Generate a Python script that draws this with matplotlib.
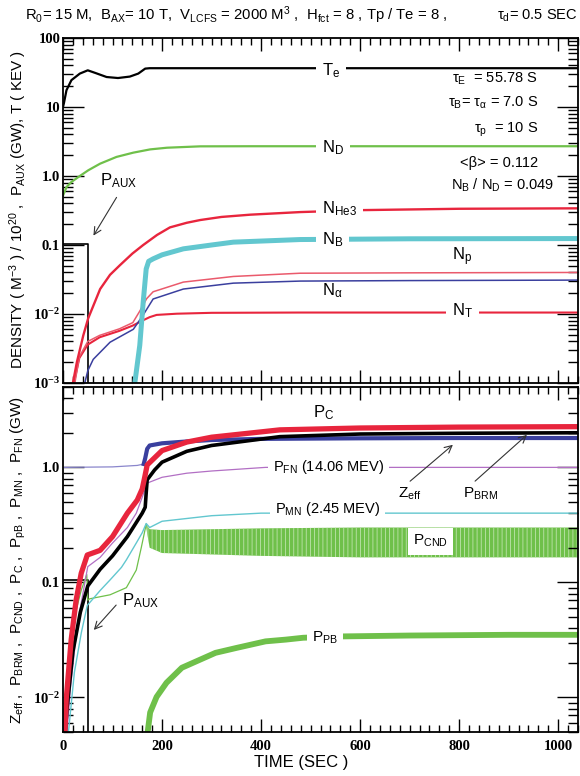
import matplotlib
matplotlib.use('Agg')
import matplotlib.pyplot as plt
from matplotlib.ticker import MultipleLocator, LogLocator

plt.rcParams['font.family'] = ['Liberation Sans', 'DejaVu Sans']
plt.rcParams['mathtext.default'] = 'regular'
plt.rcParams['hatch.linewidth'] = 0.6

W, H = 580, 776

# ---- top panel : densities (1e20 m^-3), T_e (keV), P_aux (GW) vs time (s)
t_te = [0, 2, 7, 17, 34, 50, 65, 88, 111, 135, 152, 166, 175, 300, 600, 1040]
te = [10, 11.5, 17.5, 24.5, 30.5, 34, 31.2, 27.2, 26.3, 27.6, 30.5, 36, 36.5, 36.5, 36.5, 36.5]

t_nd = [0, 7, 17, 34, 51, 75, 108, 142, 176, 210, 277, 378, 600, 1040]
nd = [0.52, 0.69, 0.82, 1.0, 1.21, 1.51, 1.89, 2.18, 2.43, 2.57, 2.69, 2.7, 2.7, 2.7]

t_nhe3 = [20, 28, 41, 51, 75, 95, 115, 140, 162, 190, 216, 250, 277, 320, 378, 479, 600, 800, 1040]
nhe3 = [0.001, 0.002, 0.0049, 0.0087, 0.023, 0.037, 0.051, 0.075, 0.1, 0.14, 0.18, 0.21, 0.23,
        0.255, 0.275, 0.30, 0.32, 0.335, 0.34]

t_nb = [145, 155, 162, 168, 173, 182, 200, 243, 300, 344, 479, 700, 1040]
nb = [0.001, 0.0035, 0.015, 0.045, 0.058, 0.063, 0.072, 0.088, 0.1, 0.11, 0.12, 0.123, 0.124]

t_np = [24, 33, 50, 74, 114, 141, 155, 169, 182, 243, 344, 479, 700, 1040]
n_p = [0.001, 0.0024, 0.0040, 0.0049, 0.0061, 0.0075, 0.011, 0.0167, 0.021, 0.029, 0.035, 0.039,
       0.0395, 0.040]

t_nt = [22, 33, 50, 74, 114, 141, 160, 175, 189, 230, 300, 479, 1040]
n_t = [0.001, 0.0023, 0.0036, 0.0046, 0.0057, 0.0068, 0.0080, 0.0090, 0.0097, 0.0101, 0.0104,
       0.0105, 0.0105]

t_na = [44, 50, 61, 95, 142, 162, 182, 243, 344, 479, 700, 1040]
n_a = [0.001, 0.0015, 0.0022, 0.0039, 0.006, 0.0097, 0.0165, 0.023, 0.028, 0.030, 0.0305, 0.031]

t_aux = [0, 50, 50]
p_aux = [0.105, 0.105, 1e-4]

# ---- bottom panel : powers (GW) and Z_eff vs time (s)
t_pc = [3, 6.5, 16.6, 26.7, 36.8, 49, 75, 100, 130, 150, 160, 165, 170, 200, 250, 300, 438,
        600, 800, 1040]
p_c = [0.004, 0.0096, 0.032, 0.071, 0.12, 0.173, 0.19, 0.25, 0.40, 0.52, 0.65, 0.82, 1.05,
       1.4, 1.66, 1.83, 2.12, 2.2, 2.24, 2.26]

t_brm = [3, 8, 20, 35, 50, 75, 100, 130, 160, 166, 168, 170, 185, 200, 250, 300, 438, 600,
         800, 1040]
p_brm = [0.004, 0.008, 0.025, 0.055, 0.093, 0.13, 0.17, 0.25, 0.40, 0.45, 0.6, 0.78, 0.95,
         1.11, 1.38, 1.55, 1.85, 1.95, 1.98, 2.0]

t_zeff = [0, 100, 150, 163, 166, 170, 175, 200, 250, 300, 400, 600, 800, 1040]
zeff = [1.0, 1.01, 1.04, 1.07, 1.2, 1.45, 1.55, 1.62, 1.68, 1.73, 1.77, 1.79, 1.8, 1.8]

t_fn = [8, 15, 25, 35, 50, 75, 100, 130, 148, 160, 170, 200, 250, 300, 409, 500, 700, 1040]
p_fn = [0.005, 0.012, 0.03, 0.06, 0.137, 0.165, 0.22, 0.30, 0.40, 0.55, 0.73, 0.82, 0.89, 0.93,
        1.0, 1.0, 1.0, 1.0]

t_mn = [11, 23, 37, 49, 75, 95, 118, 128, 148, 160, 168, 175, 200, 300, 400, 600, 1040]
p_mn = [0.005, 0.0165, 0.0365, 0.063, 0.085, 0.105, 0.135, 0.157, 0.22, 0.27, 0.325, 0.30,
        0.34, 0.38, 0.40, 0.40, 0.40]

t_cnd = [2, 7, 13, 23, 37, 48, 50, 54, 95, 128, 148, 158, 168]
p_cnd = [0.005, 0.0102, 0.026, 0.05, 0.086, 0.117, 0.07, 0.072, 0.078, 0.09, 0.128, 0.2, 0.32]
# oscillating part after ignition: envelope of the band
t_cnd_band = [168, 175, 200, 300, 400, 600, 800, 1040]
p_cnd_lo = [0.30, 0.20, 0.18, 0.175, 0.17, 0.165, 0.165, 0.165]
p_cnd_hi = [0.32, 0.29, 0.285, 0.29, 0.295, 0.30, 0.30, 0.30]

t_pb = [171, 176, 189, 209, 240, 308, 350, 409, 450, 485, 563, 700, 900, 1040]
p_pb = [0.005, 0.0074, 0.0101, 0.0134, 0.0181, 0.0244, 0.0269, 0.0307, 0.0318, 0.033, 0.0339,
        0.0345, 0.035, 0.035]

RED = '#e8253d'
GREEN = '#6fc04a'
CYAN = '#62c7cf'
BLUE = '#3a3f9e'
PURPLE = '#b26fc4'

fig = plt.figure(figsize=(W / 100, H / 100), dpi=100)
ax1 = fig.add_axes([63 / W, 1 - 383 / H, (578 - 63) / W, 345 / H])
ax2 = fig.add_axes([63 / W, 1 - 732 / H, (578 - 63) / W, 345 / H])

# top panel curves
ax1.plot(t_aux, p_aux, color='black', lw=1.2)
ax1.plot(t_nd, nd, color=GREEN, lw=1.6)
ax1.plot(t_nt, n_t, color=RED, lw=1.5)
ax1.plot(t_np, n_p, color='#ea5a6c', lw=1.1)
ax1.plot(t_na, n_a, color=BLUE, lw=1.1)
ax1.plot(t_nb, nb, color=CYAN, lw=3.6)
ax1.plot(t_nhe3, nhe3, color=RED, lw=1.7)
ax1.plot(t_te, te, color='black', lw=1.6)

# bottom panel curves
ax2.plot(t_aux, p_aux, color='black', lw=1.2)
ax2.plot(t_cnd, p_cnd, color=GREEN, lw=0.9)
ax2.fill_between(t_cnd_band, p_cnd_lo, p_cnd_hi, facecolor=GREEN, edgecolor='#bfe3ad',
                 hatch='||||', lw=0)
ax2.plot(t_pb, p_pb, color=GREEN, lw=4.2)
ax2.plot(t_mn, p_mn, color=CYAN, lw=1.0)
ax2.plot(t_fn, p_fn, color=PURPLE, lw=0.9)
ax2.plot(t_zeff[:4], zeff[:4], color='#8a86cc', lw=0.9)
ax2.plot(t_zeff[3:], zeff[3:], color=BLUE, lw=3.0)
ax2.plot(t_brm, p_brm, color='black', lw=2.6)
ax2.plot(t_pc, p_c, color=RED, lw=3.8)

for ax in (ax1, ax2):
    ax.set_yscale('log')
    ax.set_xlim(0, 1040)
    ax.xaxis.set_major_locator(MultipleLocator(200))
    ax.xaxis.set_minor_locator(MultipleLocator(20))
    ax.yaxis.set_minor_locator(LogLocator(base=10, subs=range(2, 10), numticks=20))
    ax.tick_params(which='both', direction='in', top=True, right=True)
    ax.tick_params(axis='x', which='major', length=9.5, width=1, pad=6)
    ax.tick_params(axis='x', which='minor', length=5, width=1)
    ax.tick_params(axis='y', which='major', length=15, width=1, pad=2)
    ax.tick_params(axis='y', which='minor', length=7, width=1)
    for s in ax.spines.values():
        s.set_linewidth(1.3)

ax1.set_ylim(1e-3, 100)
ax1.set_yticks([100, 10, 1, 0.1, 0.01, 0.001],
               ['100', '10', '1.0', '0.1', '$10^{-2}$', '$10^{-3}$'])
ax1.tick_params(labelbottom=False)
ax2.set_ylim(0.005, 5)
ax2.set_yticks([1, 0.1, 0.01], ['1.0', '0.1', '$10^{-2}$'])
ax2.set_xticks([0, 200, 400, 600, 800, 1000], ['0', '200', '400', '600', '800', '1000'])

for ax in (ax1, ax2):
    for lab in ax.get_xticklabels() + ax.get_yticklabels():
        lab.set_fontfamily('Liberation Serif')
        lab.set_fontweight('bold')
        lab.set_fontsize(10.5)


def ftext(x, y, s, size=11.5, box=False, **kw):
    kw.setdefault('va', 'baseline')
    if box:
        kw['bbox'] = dict(boxstyle='square,pad=0.35', fc='white', ec='none')
    fig.text(x / W, 1 - y / H, s, fontsize=size, **kw)


def arrow(ax, x0, y0, x1, y1):
    ax.annotate('', xy=(x1, H - y1), xytext=(x0, H - y0),
                xycoords='figure pixels', textcoords='figure pixels',
                arrowprops=dict(arrowstyle='->', lw=0.8, color='#333333',
                                mutation_scale=13))


# header
ftext(25, 20, r'R$_0$= 15 M,  B$_{AX}$= 10 T,  V$_{LCFS}$ = 2000 M$^3$ ,  H$_{fct}$ = 8 , '
      r'Tp / Te = 8 ,', size=10.7)
ftext(577, 20, r'τ$_d$= 0.5 SEC', size=10.5, ha='right')

# top panel labels
ftext(322, 75, r'T$_e$', size=12, box=True)
ftext(322, 152, r'N$_D$', size=12, box=True)
ftext(322, 213, r'N$_{He3}$', size=12, box=True)
ftext(322, 244, r'N$_B$', size=12, box=True)
ftext(452, 260, r'N$_p$', size=12)
ftext(322, 295, r'N$_α$', size=12)
ftext(452, 315, r'N$_T$', size=12, box=True)
ftext(100, 185, r'P$_{AUX}$', size=12)
arrow(ax1, 118, 195, 92, 238)

ftext(538, 83, r'τ$_E$  = 55.78 S', size=10.5, ha='right')
ftext(538, 107, r'τ$_B$= τ$_α$ = 7.0 S', size=10.5, ha='right')
ftext(538, 133, r'τ$_p$  = 10 S', size=10.5, ha='right')
ftext(538, 167, r'<β> = 0.112', size=10.5, ha='right')
ftext(554, 190, r'N$_B$ / N$_D$ = 0.049', size=10.5, ha='right')

# bottom panel labels
ftext(313, 417, r'P$_C$', size=12)
ftext(273, 471, r'P$_{FN}$ (14.06 MEV)', size=10.5, box=True)
ftext(275, 513, r'P$_{MN}$ (2.45 MEV)', size=10.5, box=True)
ftext(398, 498, r'Z$_{eff}$', size=11)
ftext(463, 498, r'P$_{BRM}$', size=11)
arrow(ax2, 408, 483, 455, 443)
arrow(ax2, 473, 483, 529, 433)
ftext(413, 545, r'P$_{CND}$', size=11, box=True)
ftext(312, 642, r'P$_{PB}$', size=11, box=True)
ftext(122, 605, r'P$_{AUX}$', size=12)
arrow(ax2, 118, 603, 92, 632)

# axis titles
fig.text(18 / W, 1 - 210 / H,
         r'DENSITY ( M$^{-3}$ ) / 10$^{20}$ ,  P$_{AUX}$ (GW), T ( KEV )',
         rotation=90, ha='center', va='center', fontsize=11)
fig.text(18 / W, 1 - 560 / H,
         r'Z$_{eff}$ ,  P$_{BRM}$ ,  P$_{CND}$ ,  P$_C$ ,  P$_{pB}$ ,  P$_{MN}$ ,  P$_{FN}$ (GW)',
         rotation=90, ha='center', va='center', fontsize=11)
fig.text(301 / W, 1 - 763 / H, 'TIME (SEC )', ha='center', va='center', fontsize=12)

fig.savefig('out.png', dpi=100)
